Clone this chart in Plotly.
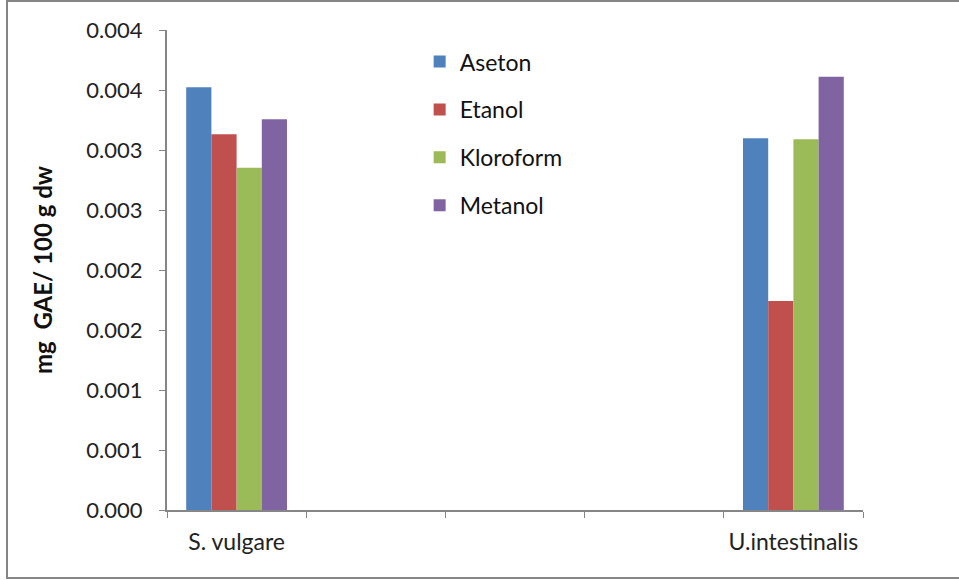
import plotly.graph_objects as go

categories = ["S. vulgare", " ", "  ", "   ", "U.intestinalis"]
series_names = ["Aseton", "Etanol", "Kloroform", "Metanol"]
aseton = [0.003523, None, None, None, 0.003097]
etanol = [0.003131, None, None, None, 0.001742]
kloroform = [0.002853, None, None, None, 0.003089]
metanol = [0.003256, None, None, None, 0.003611]
y_tickvals = [0, 0.0005, 0.001, 0.0015, 0.002, 0.0025, 0.003, 0.0035, 0.004]
y_ticktext = ["0.000", "0.001", "0.001", "0.002", "0.002", "0.003", "0.003", "0.004", "0.004"]
colors = ["#4F81BD", "#C0504D", "#9BBB59", "#8064A2"]

FONT = "Lato"
fig = go.Figure()
for name, vals, col in zip(series_names, [aseton, etanol, kloroform, metanol], colors):
    fig.add_trace(go.Bar(x=categories, y=vals, name=name, legendgroup=name,
                         marker=dict(color=col, line=dict(width=0))))

fig.update_layout(
    width=959, height=580,
    margin=dict(l=167, r=96, t=30, b=70, autoexpand=False),
    paper_bgcolor="white", plot_bgcolor="white",
    barmode="group", bargap=0.276, bargroupgap=0,
    font=dict(family=FONT, color="#222222"),
    legend=dict(x=0.363, y=0.979, xanchor="left", yanchor="top",
                font=dict(size=23, family=FONT, color="#111111"),
                traceorder="grouped", tracegroupgap=15,
                bgcolor="rgba(0,0,0,0)"),
    showlegend=True,
)
fig.update_xaxes(type="category", categoryorder="array", categoryarray=categories,
                 tickson="boundaries", ticks="outside", ticklen=6, tickcolor="#868686",
                 showline=True, linecolor="#868686", linewidth=2, ticklabelstandoff=10,
                 tickangle=0, automargin=False,
                 showgrid=False, tickfont=dict(size=23, family=FONT, color="#222222"))
fig.update_yaxes(range=[0, 0.004], tickvals=y_tickvals, ticktext=y_ticktext,
                 ticks="outside", ticklen=6, tickcolor="#868686",
                 showline=True, linecolor="#868686", linewidth=2, showgrid=False,
                 zeroline=False, ticklabelstandoff=12, automargin=False,
                 tickfont=dict(size=22, family=FONT, color="#222222"),
                 title=dict(text="<b>mg  GAE/ 100 g dw</b>", standoff=27,
                            font=dict(size=24, family=FONT, color="#111111")))
fig.add_shape(type="rect", xref="paper", yref="paper",
              x0=-0.2299, x1=1.3, y0=-0.1417, y1=1.0604,
              line=dict(color="#868686", width=2), fillcolor="rgba(0,0,0,0)", layer="below")
fig.write_html("out.html", config={"displayModeBar": False},
               post_script="document.body.style.margin='0';")
